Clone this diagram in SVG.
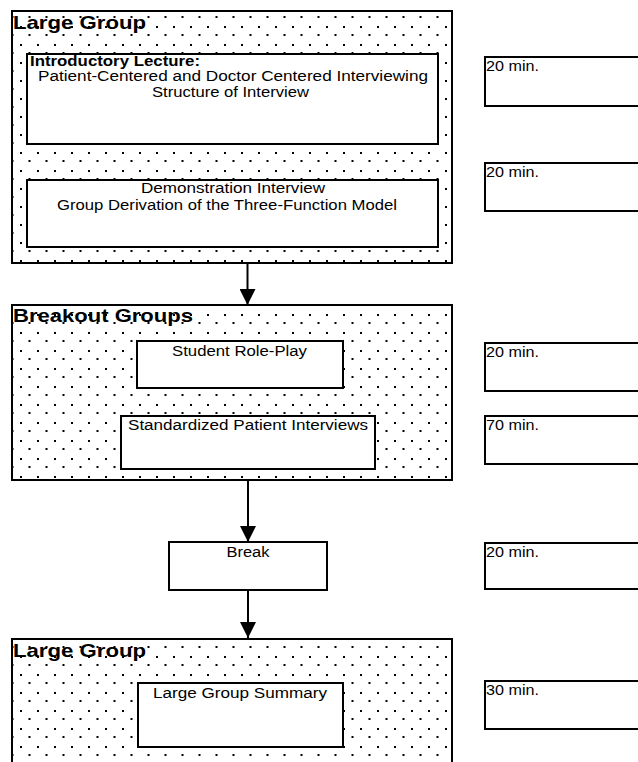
<svg xmlns="http://www.w3.org/2000/svg" width="638" height="762" viewBox="0 0 638 762">
<style>
text{font-family:"Liberation Sans",Arial,sans-serif;fill:#000}
.t{font-size:15.5px}
.s{font-size:14px}
.ttl{font-size:19px;font-weight:bold}
.b{font-size:15px;font-weight:bold}
.grp{fill:url(#dots);stroke:#000;stroke-width:2}
.box{fill:#fff;stroke:#000;stroke-width:2}
.conn line{stroke:#000;stroke-width:2;marker-end:url(#ah)}
</style>
<defs>
<pattern id="dots" width="17" height="18" patternUnits="userSpaceOnUse">
<rect x="3" y="8" width="2" height="2" fill="#000"/>
<rect x="11.5" y="16" width="2" height="2" fill="#000"/>
</pattern>
<marker id="ah" markerUnits="userSpaceOnUse" markerWidth="16" markerHeight="16" refX="16" refY="8" orient="auto" viewBox="0 0 16 16">
<path d="M0,0 L16,8 L0,16 Z" fill="#000"/>
</marker>
</defs>
<rect width="638" height="762" fill="#fff"/>

<g id="group1">
<rect class="grp" x="12" y="11" width="440" height="252"/>
<text class="ttl" x="13" y="29" textLength="133" lengthAdjust="spacingAndGlyphs">Large Group</text>
</g>
<g id="intro">
<rect class="box" x="27" y="54" width="411" height="90"/>
<text class="b" x="30" y="66" textLength="170" lengthAdjust="spacingAndGlyphs">Introductory Lecture:</text>
<text class="s" x="233" y="81" text-anchor="middle" textLength="390" lengthAdjust="spacingAndGlyphs">Patient-Centered and Doctor Centered Interviewing</text>
<text class="s" x="230.5" y="97" text-anchor="middle" textLength="157" lengthAdjust="spacingAndGlyphs">Structure of Interview</text>
</g>
<g id="demo">
<rect class="box" x="27" y="180" width="411" height="67"/>
<text class="t" x="233" y="193" text-anchor="middle" textLength="184" lengthAdjust="spacingAndGlyphs">Demonstration Interview</text>
<text class="t" x="227" y="210" text-anchor="middle" textLength="340" lengthAdjust="spacingAndGlyphs">Group Derivation of the Three-Function Model</text>
</g>

<g id="group2">
<rect class="grp" x="12" y="305" width="440" height="175"/>
<text class="ttl" x="13" y="322" textLength="180" lengthAdjust="spacingAndGlyphs">Breakout Groups</text>
</g>
<g id="roleplay">
<rect class="box" x="137" y="341" width="206" height="47"/>
<text class="t" x="239.5" y="356" text-anchor="middle" textLength="135" lengthAdjust="spacingAndGlyphs">Student Role-Play</text>
</g>
<g id="sp">
<rect class="box" x="121" y="416" width="254" height="53"/>
<text class="t" x="248" y="430" text-anchor="middle" textLength="240" lengthAdjust="spacingAndGlyphs">Standardized Patient Interviews</text>
</g>

<g id="break">
<rect class="box" x="169" y="542" width="158" height="48"/>
<text class="t" x="248" y="557" text-anchor="middle" textLength="43" lengthAdjust="spacingAndGlyphs">Break</text>
</g>

<g id="group3">
<rect class="grp" x="12" y="639" width="440" height="140"/>
<text class="ttl" x="13" y="657" textLength="133" lengthAdjust="spacingAndGlyphs">Large Group</text>
</g>
<g id="summary">
<rect class="box" x="138" y="683" width="205" height="64"/>
<text class="t" x="240" y="698" text-anchor="middle" textLength="174" lengthAdjust="spacingAndGlyphs">Large Group Summary</text>
</g>

<g id="time1"><rect class="box" x="485" y="57" width="170" height="49"/><text class="t" x="486" y="71" textLength="53" lengthAdjust="spacingAndGlyphs">20 min.</text></g>
<g id="time2"><rect class="box" x="485" y="163" width="170" height="48"/><text class="t" x="486" y="177" textLength="53" lengthAdjust="spacingAndGlyphs">20 min.</text></g>
<g id="time3"><rect class="box" x="485" y="343" width="170" height="48"/><text class="t" x="486" y="357" textLength="53" lengthAdjust="spacingAndGlyphs">20 min.</text></g>
<g id="time4"><rect class="box" x="485" y="416" width="170" height="48"/><text class="t" x="486" y="430" textLength="53" lengthAdjust="spacingAndGlyphs">70 min.</text></g>
<g id="time5"><rect class="box" x="485" y="543" width="170" height="46"/><text class="t" x="486" y="557" textLength="53" lengthAdjust="spacingAndGlyphs">20 min.</text></g>
<g id="time6"><rect class="box" x="485" y="681" width="170" height="48"/><text class="t" x="486" y="695" textLength="53" lengthAdjust="spacingAndGlyphs">30 min.</text></g>

<g id="connectors" class="conn">
<line x1="247.5" y1="263" x2="247.5" y2="305"/>
<line x1="248" y1="480" x2="248" y2="542"/>
<line x1="248" y1="590" x2="248" y2="638"/>
</g>
</svg>
